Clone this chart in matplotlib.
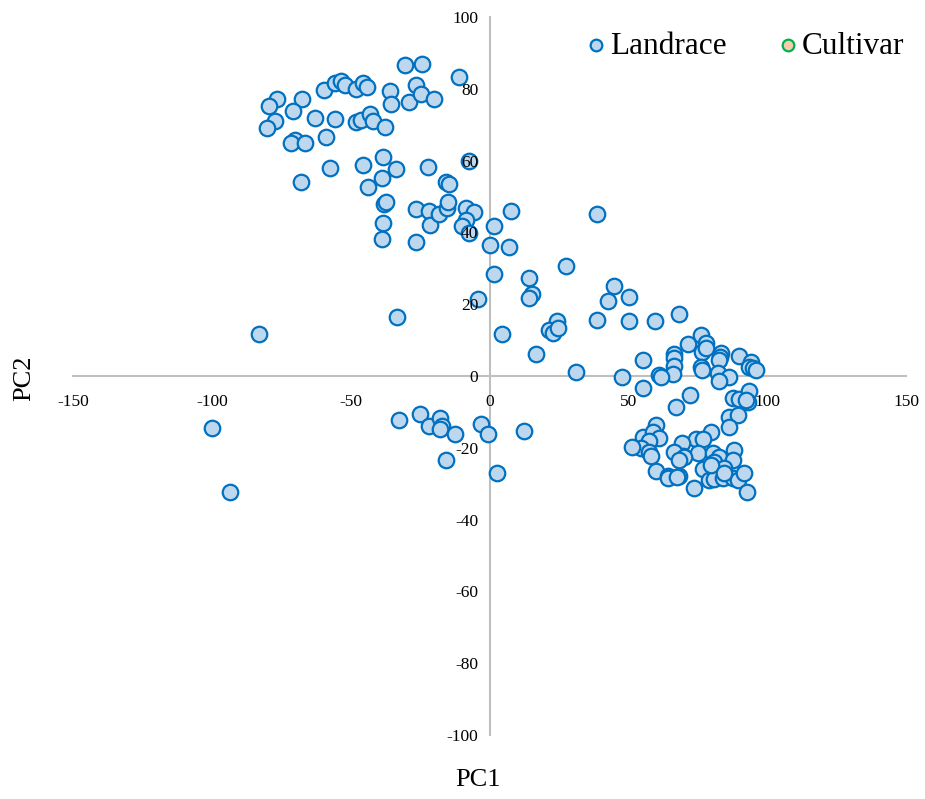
import matplotlib
matplotlib.use("Agg")
import matplotlib.pyplot as plt

plt.rcParams['font.family'] = ['Liberation Serif', 'DejaVu Serif']

landrace_pc1 = [
    -30.6, -24.2, -11.1, -7.5, -76.6, -79.5, -67.4, -70.6, -59.7, -55.8,
    -53.4, -51.9, -48.0, -45.4, -44.0, -35.8, -35.4, -29.1, -26.4, -24.6,
    -20.1, -63.0, -55.8, -77.4, -80.0, -70.2, -71.4, -66.4, -58.8, -48.0,
    -46.2, -43.0, -42.0, -37.6, -38.4, -57.6, -45.6, -33.6, -22.2, -67.8,
    -38.6, -43.6, -15.6, -14.7, -38.1, -37.2, -38.2, -38.8, -26.4, -21.9,
    -21.6, -18.3, -15.4, -15.0, -26.4, -8.6, -5.7, -8.4, -9.8, -7.5,
    1.8, 7.8, 0.1, 7.0, 1.8, 27.4, 14.2, -4.2, 15.4, 14.4,
    38.8, 45.0, 42.6, 50.2, 4.4, 24.2, 21.6, 22.8, 24.6, 38.8,
    50.4, 59.7, 68.1, 71.4, 16.6, 31.2, 55.2, 66.6, 66.6, 66.4,
    66.0, 61.2, 61.8, 47.8, 55.2, 76.2, 77.8, 76.6, 78.0, 83.4,
    83.1, 82.8, 90.0, 94.2, 93.3, 94.8, 96.0, 76.2, 76.6, 82.2,
    86.2, 82.8, 72.2, 67.2, 87.6, 90.0, 93.4, 93.0, 92.4, 86.2,
    89.4, 86.4, 79.8, 74.4, 76.8, 69.4, 69.6, 75.0, 80.4, 82.8,
    81.0, 88.2, 87.6, 76.8, 84.6, 79.2, 81.0, 84.0, 87.6, 89.4,
    91.8, 73.8, 92.8, 68.4, 60.0, 55.2, 58.8, 61.2, 57.6, 54.6,
    57.6, 58.2, 51.2, 66.3, 70.2, 68.4, 59.8, 64.2, 64.2, 67.4,
    79.9, 84.6,
    -83.1, -33.2, -99.9, -93.4, -32.7, -25.0, -21.9, -18.0, -17.0, -18.0,
    -12.4, -15.8, -3.0, -0.4, 12.6, 2.8,
]
landrace_pc2 = [
    86.6, 86.8, 83.4, 60.0, 77.2, 75.2, 77.2, 73.9, 79.7, 81.5,
    82.3, 81.1, 79.9, 81.7, 80.6, 79.4, 75.7, 76.4, 81.1, 78.5,
    77.1, 71.9, 71.7, 71.1, 69.2, 65.7, 64.8, 64.8, 66.7, 70.8,
    71.3, 73.0, 71.1, 69.4, 60.9, 57.9, 58.8, 57.6, 58.3, 54.0,
    55.2, 52.7, 54.1, 53.5, 47.8, 48.6, 42.5, 38.1, 46.4, 46.0,
    42.1, 45.1, 46.7, 48.6, 37.4, 46.7, 45.8, 43.5, 41.8, 39.9,
    41.9, 46.0, 36.6, 35.9, 28.5, 30.6, 27.4, 21.4, 22.8, 21.6,
    45.1, 25.2, 20.9, 22.1, 11.6, 15.3, 12.8, 11.9, 13.3, 15.6,
    15.4, 15.3, 17.2, 8.9, 6.0, 1.2, 4.5, 6.1, 5.0, 2.9,
    0.6, 0.3, -0.2, -0.2, -3.4, 11.4, 9.3, 6.8, 7.7, 6.3,
    5.4, 4.5, 5.7, 4.0, 2.6, 2.1, 1.8, 2.6, 1.7, 0.9,
    -0.4, -1.3, -5.3, -8.6, -6.2, -6.5, -4.1, -7.2, -6.7, -11.3,
    -11.0, -14.1, -15.5, -17.6, -17.6, -18.7, -22.2, -21.4, -21.4, -22.5,
    -23.9, -20.6, -23.4, -26.0, -25.7, -29.0, -28.8, -28.5, -28.5, -29.0,
    -27.1, -31.1, -32.2, -27.9, -13.6, -16.9, -15.5, -17.4, -18.0, -20.1,
    -21.1, -22.3, -19.7, -21.1, -22.6, -23.4, -26.5, -27.9, -28.5, -28.1,
    -24.8, -27.0,
    11.6, 16.4, -14.6, -32.4, -12.3, -10.7, -13.9, -11.8, -13.9, -14.7,
    -16.2, -23.5, -13.3, -16.1, -15.3, -26.9,
]
cultivar_pc1 = []
cultivar_pc2 = []

x_ticks = [-150, -100, -50, 0, 50, 100, 150]
y_ticks = [-100, -80, -60, -40, -20, 0, 20, 40, 60, 80, 100]

fig = plt.figure(figsize=(9.25, 7.99), dpi=100)
ax = fig.add_axes([73/925, 1-735/799, (906-73)/925, (735-17)/799])
ax.set_axisbelow(False)

ax.scatter(landrace_pc1, landrace_pc2, s=125, facecolor='#BDD7EE',
           edgecolor='#0070C0', linewidth=1.6, label='Landrace', zorder=2)
ax.scatter(cultivar_pc1, cultivar_pc2, s=125, facecolor='#F8CBAD',
           edgecolor='#00B050', linewidth=1.6, label='Cultivar', zorder=2)

ax.set_xlim(-150, 150)
ax.set_ylim(-100, 100)
ax.set_xticks(x_ticks)
ax.set_yticks(y_ticks)
ax.set_xticklabels([str(v) for v in x_ticks])
ax.set_yticklabels([str(v) for v in y_ticks])

for side in ['top', 'right']:
    ax.spines[side].set_visible(False)
ax.spines['left'].set_position(('data', 0))
ax.spines['bottom'].set_position(('data', 0))
for side in ['left', 'bottom']:
    ax.spines[side].set_color('#BFBFBF')
    ax.spines[side].set_linewidth(1.5)
    ax.spines[side].set_zorder(1)
ax.tick_params(axis='both', length=0, labelsize=12.5, colors='black')
ax.tick_params(axis='x', pad=13)
ax.tick_params(axis='y', pad=8)

fig.text(478/925, 1-780/799, 'PC1', fontsize=19, ha='center', va='center')
fig.text(24/925, 1-378/799, 'PC2', fontsize=19, ha='center', va='center', rotation=90)

leg = fig.legend(loc='center right', bbox_to_anchor=(917/925, 1-46/799), ncol=2,
                 frameon=False, fontsize=22.5, handletextpad=0.05, columnspacing=1.55,
                 markerscale=0.75, handlelength=0.8, borderaxespad=0)

fig.savefig('out.png', dpi=100)
